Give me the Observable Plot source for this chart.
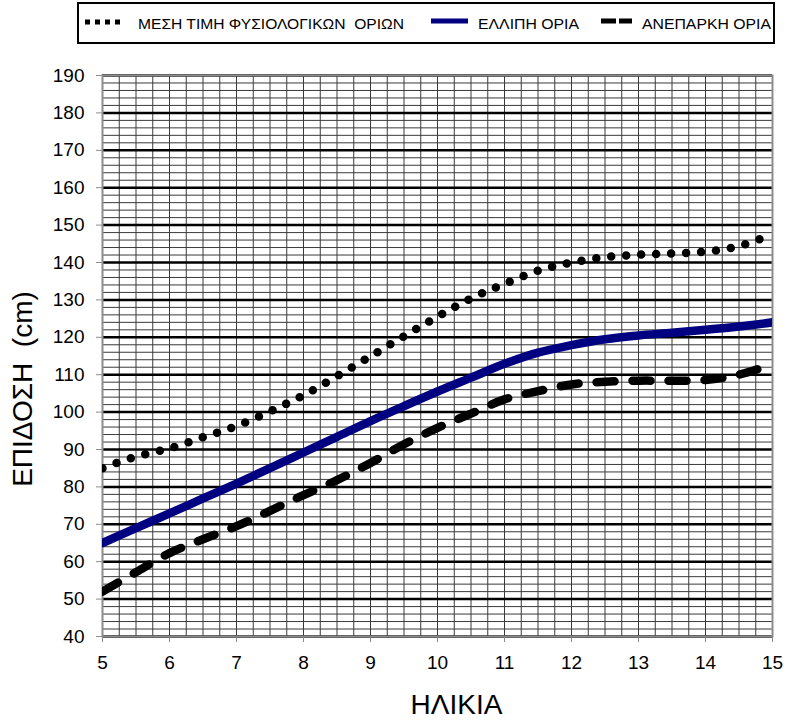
<!DOCTYPE html>
<html>
<head>
<meta charset="utf-8">
<script src="https://cdn.jsdelivr.net/npm/d3@7"></script>
<script src="https://cdn.jsdelivr.net/npm/@observablehq/plot@0.6"></script>
<style>
  body { margin: 0; background: white; font-family: "Liberation Sans", Arial, sans-serif; }
  #legend { display: block; }
  #legend text { white-space: pre; font-family: "Liberation Sans", Arial, sans-serif; font-size: 15.5px; }
</style>
</head>
<body>
<svg id="legend" width="788" height="48" xmlns="http://www.w3.org/2000/svg"></svg>
<div id="chart"></div>
<script>
// ---- data ----
const ages = [5, 5.5, 6, 6.5, 7, 7.5, 8, 8.5, 9, 9.5, 10, 10.5, 11, 11.5, 12, 12.5, 13, 13.5, 14, 14.5, 15];
const meanNormal = [85, 88.1, 90.3, 93.3, 96.3, 100.2, 104.5, 109.6, 114.9, 120.3, 125.5, 130.4, 134.3, 137.8, 140.0, 141.4, 142.1, 142.4, 142.9, 144.4, 147.6];
const deficient = [65, 69, 72.9, 76.9, 80.9, 85, 89.2, 93.4, 97.6, 101.6, 105.5, 109.2, 112.9, 115.9, 117.9, 119.5, 120.5, 121.2, 122, 122.9, 124];
const inadequate = [52, 57.2, 62.3, 66, 69.5, 73.6, 77.8, 81.8, 86.4, 91.4, 95.8, 99.6, 103.4, 105.6, 107.4, 108.1, 108.4, 108.4, 108.6, 110, 112.8];

const seriesNames = ["ΜΕΣΗ ΤΙΜΗ ΦΥΣΙΟΛΟΓΙΚΩΝ  ΟΡΙΩΝ", "ΕΛΛΙΠΗ ΟΡΙΑ", "ΑΝΕΠΑΡΚΗ ΟΡΙΑ"];
const xTicks = [5, 6, 7, 8, 9, 10, 11, 12, 13, 14, 15];
const yTicks = [40, 50, 60, 70, 80, 90, 100, 110, 120, 130, 140, 150, 160, 170, 180, 190];
const xLabel = "ΗΛΙΚΙΑ";
const yLabel = "ΕΠΙΔΟΣΗ  (cm)";

const rows = (vals) => ages.map((a, i) => ({age: a, value: vals[i]}));

// ---- legend (above the plot svg) ----
const ns = "http://www.w3.org/2000/svg";
const lg = document.getElementById("legend");
function el(tag, attrs, text) {
  const e = document.createElementNS(ns, tag);
  for (const k in attrs) e.setAttribute(k, attrs[k]);
  if (text != null) e.textContent = text;
  lg.appendChild(e);
  return e;
}
el("rect", {x: 78, y: 3, width: 696, height: 40, fill: "white", stroke: "black", "stroke-width": 2});
el("line", {x1: 85, x2: 123, y1: 22, y2: 22, stroke: "black", "stroke-width": 5, "stroke-dasharray": "5 5"});
el("text", {x: 138, y: 28.5, fill: "black", textLength: 266, lengthAdjust: "spacingAndGlyphs"}, seriesNames[0]);
el("line", {x1: 431, x2: 468, y1: 21, y2: 21, stroke: "#000080", "stroke-width": 5});
el("text", {x: 478, y: 28.5, fill: "black", textLength: 101, lengthAdjust: "spacingAndGlyphs"}, seriesNames[1]);
el("line", {x1: 601, x2: 632, y1: 21, y2: 21, stroke: "black", "stroke-width": 5, "stroke-dasharray": "15 3"});
el("text", {x: 642, y: 28.5, fill: "black", textLength: 129, lengthAdjust: "spacingAndGlyphs"}, seriesNames[2]);

// ---- grid positions ----
const xGrid = d3.range(5, 15.001, 0.25);
const yMinor = d3.range(40, 190.001, 2).filter(v => v % 10 !== 0);
const yMajor = yTicks;

const chart = Plot.plot({
  width: 788,
  height: 673,
  marginTop: 27,
  marginBottom: 85,
  marginLeft: 102,
  marginRight: 16,
  style: {fontFamily: "Liberation Sans, Arial, sans-serif", background: "white", overflow: "visible"},
  x: {domain: [5, 15]},
  y: {domain: [40, 190]},
  marks: [
    Plot.ruleX(xGrid, {stroke: "#3a3a3a", strokeWidth: 1}),
    Plot.ruleY(yMinor, {stroke: "#3a3a3a", strokeWidth: 1}),
    Plot.ruleY(yMajor, {stroke: "black", strokeWidth: 2.5}),
    Plot.frame({stroke: "#8c8c8c", strokeWidth: 2}),
    Plot.line(rows(meanNormal), {x: "age", y: "value", curve: "catmull-rom", stroke: "black", strokeWidth: 8.5, strokeDasharray: "0 15", strokeLinecap: "round", clip: true}),
    Plot.line(rows(deficient), {x: "age", y: "value", curve: "catmull-rom", stroke: "#000080", strokeWidth: 8.5, clip: true}),
    Plot.line(rows(inadequate), {x: "age", y: "value", curve: "catmull-rom", stroke: "black", strokeWidth: 8.5, strokeDasharray: "18 18", strokeLinecap: "round", clip: true}),
    Plot.axisX(xTicks, {tickSize: 6, tickPadding: 13, fontSize: 19, stroke: "#8c8c8c", fill: "black", label: null, tickFormat: d => String(d)}),
    Plot.axisY(yTicks, {tickSize: 6, tickPadding: 12, fontSize: 19, stroke: "#8c8c8c", fill: "black", label: null, tickFormat: d => String(d)}),
    Plot.text([xLabel], {frameAnchor: "bottom", textAnchor: "middle", lineAnchor: "middle", dx: 19, dy: 69, fontSize: 28, fill: "black"}),
    Plot.text([yLabel], {frameAnchor: "left", textAnchor: "middle", lineAnchor: "middle", dx: -79, dy: 33, rotate: -90, fontSize: 28, fill: "black"})
  ]
});
document.getElementById("chart").appendChild(chart);
</script>
</body>
</html>
